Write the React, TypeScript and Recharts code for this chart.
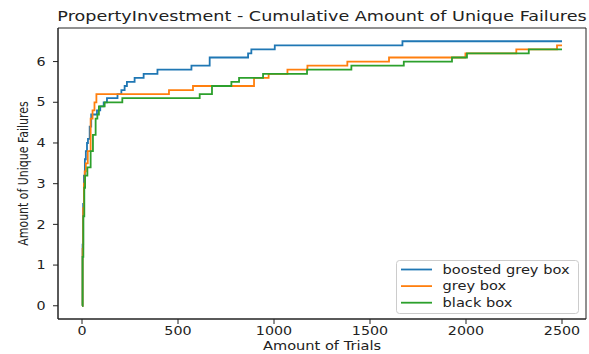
import { LineChart, Line, XAxis, YAxis, Legend, ReferenceArea, Label } from "recharts";

const boostedTrials = [0, 3, 6, 10, 15, 20, 26, 31, 40, 48, 78, 95, 113, 130, 185, 205, 222, 234, 274, 321, 393, 570, 665, 865, 882, 1004, 1669, 2500];
const boostedValues = [0, 1.5, 2.5, 3.2, 3.6, 3.8, 4.0, 4.1, 4.4, 4.7, 4.8, 4.9, 5.0, 5.1, 5.2, 5.3, 5.4, 5.5, 5.6, 5.7, 5.8, 5.9, 6.1, 6.2, 6.3, 6.4, 6.5, 6.5];

const greyTrials = [0, 3, 6, 10, 14, 20, 30, 45, 55, 65, 75, 453, 578, 896, 972, 1070, 1174, 1382, 1599, 1997, 2262, 2474, 2500];
const greyValues = [0, 1.4, 2.4, 3.0, 3.3, 3.5, 3.8, 4.6, 4.8, 5.0, 5.2, 5.3, 5.4, 5.6, 5.7, 5.8, 5.9, 6.0, 6.1, 6.2, 6.3, 6.4, 6.4];

const blackTrials = [0, 3, 7, 12, 16, 28, 45, 57, 71, 80, 88, 118, 210, 613, 677, 778, 818, 943, 1172, 1403, 1676, 1927, 2005, 2327, 2500];
const blackValues = [0, 1.2, 2.2, 2.9, 3.2, 3.4, 3.8, 4.2, 4.6, 4.7, 4.9, 5.0, 5.1, 5.2, 5.4, 5.5, 5.6, 5.7, 5.8, 5.9, 6.0, 6.1, 6.2, 6.3, 6.3];

const seriesNames = ["boosted grey box", "grey box", "black box"];
const xTicks = [0, 500, 1000, 1500, 2000, 2500];
const yTicks = [0, 1, 2, 3, 4, 5, 6];

const zip = (trials: number[], values: number[]) => trials.map((t, i) => ({ trial: t, value: values[i] }));
const boostedData = zip(boostedTrials, boostedValues);
const greyData = zip(greyTrials, greyValues);
const blackData = zip(blackTrials, blackValues);

const FONT = "DejaVu Sans";
const SQ = 0.8; // the picture is squashed vertically
const INK = "#222";

const XTick = (props: any) => {
  const { x, y, payload } = props;
  return (
    <text transform={`translate(${x},${y}) scale(1,${SQ})`} y={14.3 * 0.73} textAnchor="middle" fontFamily={FONT} fontSize={14.3} fill={INK}>
      {payload.value}
    </text>
  );
};

const YTick = (props: any) => {
  const { x, y, payload } = props;
  return (
    <text transform={`translate(${x},${y}) scale(1,${SQ})`} y={14.3 * 0.365} textAnchor="end" fontFamily={FONT} fontSize={14.3} fill={INK}>
      {payload.value}
    </text>
  );
};

const TitleLabel = (props: any) => {
  const vb = props.viewBox || { x: 58, y: 28, width: 528, height: 291 };
  return (
    <text transform={`translate(${vb.x + vb.width / 2},${vb.y - 7.5}) scale(1,${SQ})`} textAnchor="middle" fontFamily={FONT} fontSize={17.6} fill={INK}>
      PropertyInvestment - Cumulative Amount of Unique Failures
    </text>
  );
};

const XLabel = (props: any) => {
  const vb = props.viewBox || { x: 58, y: 319, width: 528, height: 35 };
  return (
    <text transform={`translate(${vb.x + vb.width / 2},${vb.y + 31}) scale(1,${SQ})`} textAnchor="middle" fontFamily={FONT} fontSize={14.6} fill={INK}>
      Amount of Trials
    </text>
  );
};

const YLabel = (props: any) => {
  const vb = props.viewBox || { x: 0, y: 28, width: 58, height: 291 };
  return (
    <text transform={`translate(${vb.x + 28},${vb.y + vb.height / 2}) rotate(-90) scale(${SQ},1)`} textAnchor="middle" fontFamily={FONT} fontSize={13.7} fill={INK}>
      Amount of Unique Failures
    </text>
  );
};

const LegendBox = (props: any) => {
  const items = [...(props.payload || [])].sort(
    (a: any, b: any) => seriesNames.indexOf(a.value) - seriesNames.indexOf(b.value)
  );
  return (
    <svg width={184} height={55} style={{ display: "block" }}>
      <rect x={0.5} y={0.5} width={182} height={53} rx={3} fill="#fff" fillOpacity={0.8} stroke="#ccc" />
      {items.map((item: any, i: number) => {
        const cy = 9.5 + i * 16.6;
        return (
          <g key={item.value}>
            <line x1={5} x2={36} y1={cy} y2={cy} stroke={item.color} strokeWidth={1.8} />
            <text transform={`translate(46.6,${cy + 4.3}) scale(1,${SQ})`} fontFamily={FONT} fontSize={14.6} fill={INK}>
              {item.value}
            </text>
          </g>
        );
      })}
    </svg>
  );
};

export default function App() {
  return (
    <div style={{ position: "absolute", left: 0, top: 0, width: 589, height: 354, background: "#fff" }}>
      <LineChart width={589} height={354} margin={{ top: 28, right: 3, bottom: 0, left: 0 }}>
        <XAxis
          dataKey="trial"
          type="number"
          domain={[-125, 2625]}
          ticks={xTicks}
          allowDataOverflow
          height={35}
          tickSize={5}
          tickMargin={3}
          stroke={INK}
          tick={<XTick />}
        >
          <Label content={<XLabel />} />
        </XAxis>
        <YAxis
          type="number"
          domain={[-0.325, 6.825]}
          ticks={yTicks}
          allowDataOverflow
          width={58}
          tickSize={5}
          tickMargin={7.5}
          stroke={INK}
          tick={<YTick />}
        >
          <Label content={<YLabel />} />
        </YAxis>
        <ReferenceArea x1={-125} x2={2625} y1={-0.325} y2={6.825} fill="none" stroke={INK} strokeWidth={1} label={<TitleLabel />} />
        <Line data={boostedData} dataKey="value" name={seriesNames[0]} type="stepAfter" stroke="#1f77b4" strokeWidth={1.8} dot={false} isAnimationActive={false} />
        <Line data={greyData} dataKey="value" name={seriesNames[1]} type="stepAfter" stroke="#ff7f0e" strokeWidth={1.8} dot={false} isAnimationActive={false} />
        <Line data={blackData} dataKey="value" name={seriesNames[2]} type="stepAfter" stroke="#2ca02c" strokeWidth={1.8} dot={false} isAnimationActive={false} />
        <Legend
          layout="horizontal"
          verticalAlign="middle"
          align="center"
          content={<LegendBox />}
          wrapperStyle={{ position: "absolute", left: 396, top: 260, width: 184, height: 55 }}
        />
      </LineChart>
    </div>
  );
}
